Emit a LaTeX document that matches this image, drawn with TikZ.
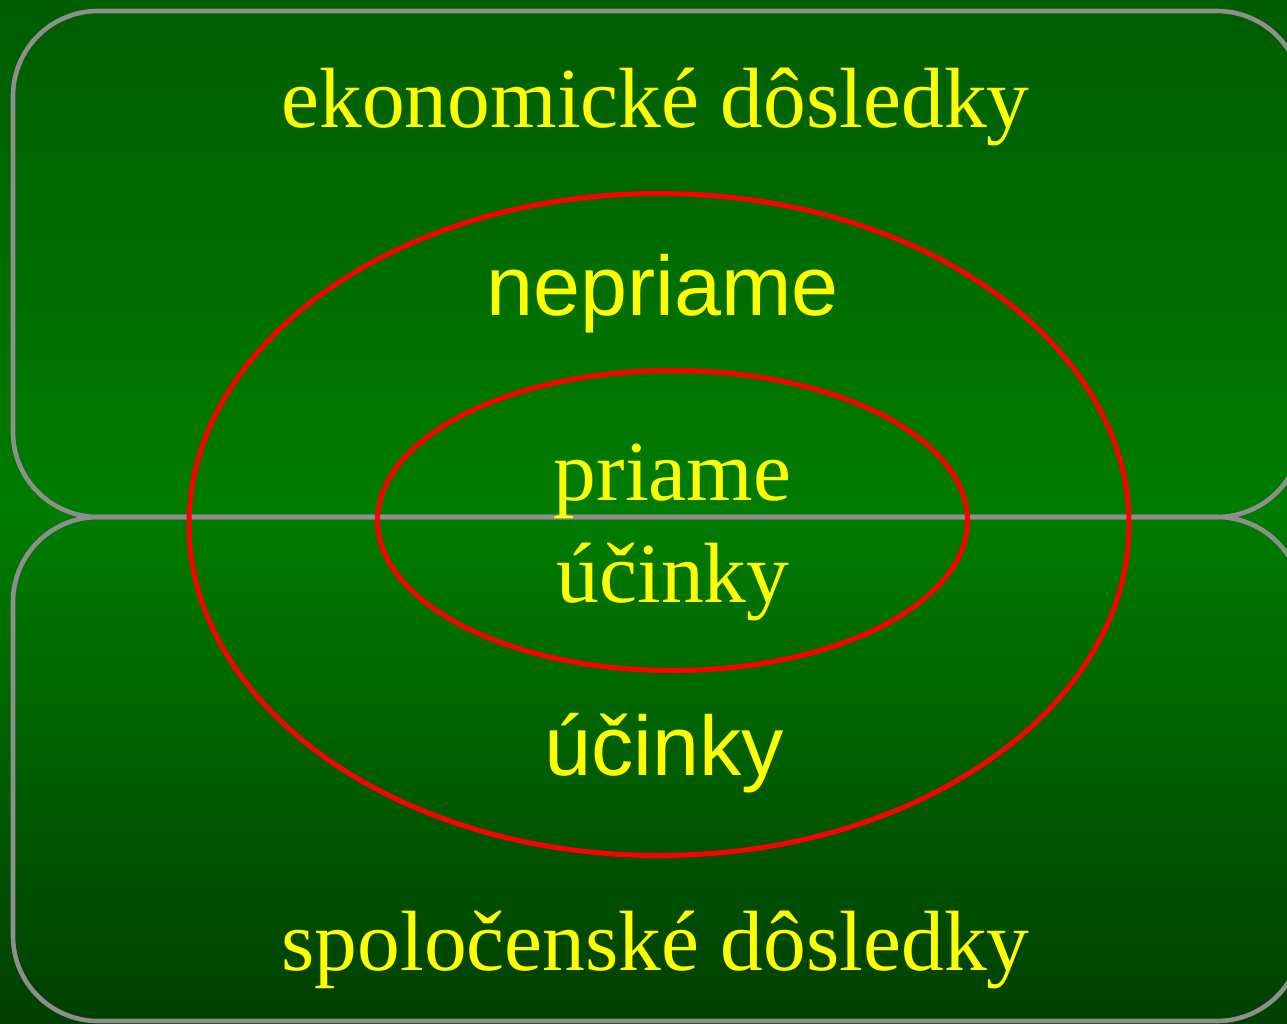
\documentclass[tikz,border=0pt]{standalone}
\usepackage{fontspec}
\setmainfont{Liberation Serif}
\newfontfamily\arialish{Liberation Sans}
\usetikzlibrary{shapes.geometric}
\definecolor{bgtop}{HTML}{005C00}
\definecolor{bgmid}{HTML}{007C00}
\definecolor{bgbot}{HTML}{003F00}
\definecolor{framegray}{HTML}{8E8E8E}
\definecolor{txtyellow}{HTML}{FFFF00}
\definecolor{ringred}{HTML}{FF0000}
\tikzset{
  panel/.style={draw=framegray, line width=4.6pt, rounded corners=85pt},
  ring/.style={draw=ringred, line width=5pt, ellipse, inner sep=0pt},
  serifbig/.style={text=txtyellow, anchor=base, inner sep=0pt, font=\fontsize{85.5}{100}\selectfont},
  sansbig/.style={text=txtyellow, anchor=base, inner sep=0pt, font=\arialish\fontsize{84.5}{100}\selectfont},
}
\begin{document}
\begin{tikzpicture}[x=1pt,y=-1pt]
\useasboundingbox (0,0) rectangle (1287,1023);
\shade[top color=bgtop, bottom color=bgbot, middle color=bgmid] (0,0) rectangle (1287,1023);
\begin{scope}
\clip (0,0) rectangle (1287,1023);
\draw[panel] (13,11) rectangle (1302,517);
\draw[panel] (13,517) rectangle (1302,1021);
\end{scope}
\node[ring, minimum width=940pt, minimum height=662pt] (outer) at (659,524.5) {};
\node[ring, minimum width=590pt, minimum height=300pt] (inner) at (672.5,520.5) {};
\node[serifbig] (eko) at (655.5,127) {ekonomické dôsledky};
\node[sansbig] (nep) at (662.5,315) {nepriame};
\node[serifbig] (pri) at (672.5,500) {priame};
\node[serifbig] (uci1) at (673,602) {účinky};
\node[sansbig] (uci2) at (664,775) {účinky};
\node[serifbig] (spo) at (655.5,970) {spoločenské dôsledky};
\end{tikzpicture}
\end{document}
